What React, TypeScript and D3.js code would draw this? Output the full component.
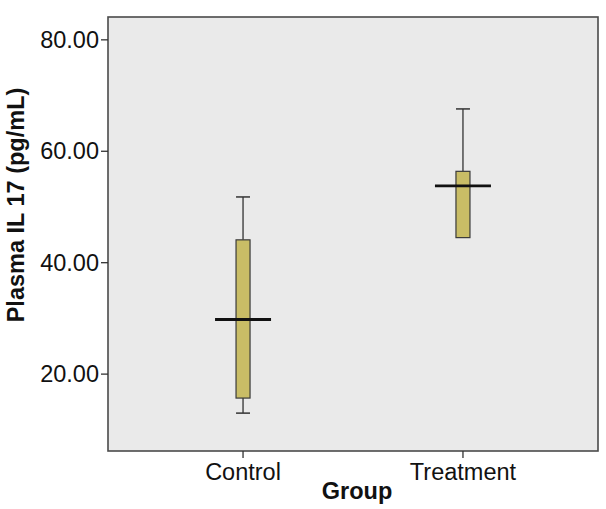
import React from "react";
import * as d3 from "d3";

const groups = ["Control", "Treatment"];
const whiskerLow = [13.0, 44.5];
const q1 = [15.7, 44.5];
const median = [29.8, 53.8];
const q3 = [44.1, 56.4];
const whiskerHigh = [51.8, 67.6];
const yTicks = [20, 40, 60, 80];

const W = 606;
const H = 509;
const left = 108;
const right = 598;
const top = 17;
const bottom = 451;

export default function App() {
  const x = d3.scalePoint<string>().domain(groups).range([left, right]).padding(0.614);
  const y = d3.scaleLinear().domain([6.2, 84.1]).range([bottom, top]);
  const boxW = 14;
  const capW = 14;
  const medW = 56;
  const font = "'Liberation Sans', Arial, sans-serif";
  return (
    <svg width={W} height={H} style={{ position: "absolute", left: 0, top: 0 }}>
      <rect x={0} y={0} width={W} height={H} fill="#ffffff" />
      <rect x={left} y={top} width={right - left} height={bottom - top} fill="#eaeaea" stroke="#4a4a4a" strokeWidth={1.6} />
      {yTicks.map((t) => (
        <g key={t}>
          <line x1={left - 7} x2={left} y1={y(t)} y2={y(t)} stroke="#333" strokeWidth={1.3} />
          <text x={left - 9} y={y(t)} dy="0.35em" textAnchor="end" fontFamily={font} fontSize={23.5} fill="#111">
            {t.toFixed(2)}
          </text>
        </g>
      ))}
      {groups.map((g) => (
        <g key={g}>
          <line x1={x(g)} x2={x(g)} y1={bottom} y2={bottom + 7} stroke="#333" strokeWidth={1.3} />
          <text x={x(g)} y={480} textAnchor="middle" fontFamily={font} fontSize={23.5} fill="#111">
            {g}
          </text>
        </g>
      ))}
      {groups.map((g, i) => {
        const cx = x(g) as number;
        return (
          <g key={"b" + g}>
            <line x1={cx} x2={cx} y1={y(whiskerHigh[i])} y2={y(q3[i])} stroke="#333" strokeWidth={1.3} />
            <line x1={cx} x2={cx} y1={y(q1[i])} y2={y(whiskerLow[i])} stroke="#333" strokeWidth={1.3} />
            {whiskerHigh[i] > q3[i] && (
              <line x1={cx - capW / 2} x2={cx + capW / 2} y1={y(whiskerHigh[i])} y2={y(whiskerHigh[i])} stroke="#333" strokeWidth={1.5} />
            )}
            {whiskerLow[i] < q1[i] && (
              <line x1={cx - capW / 2} x2={cx + capW / 2} y1={y(whiskerLow[i])} y2={y(whiskerLow[i])} stroke="#333" strokeWidth={1.5} />
            )}
            <rect x={cx - boxW / 2} y={y(q3[i])} width={boxW} height={y(q1[i]) - y(q3[i])} fill="#c9bd66" stroke="#3a3a3a" strokeWidth={1.2} />
            <line x1={cx - medW / 2} x2={cx + medW / 2} y1={y(median[i])} y2={y(median[i])} stroke="#111" strokeWidth={2.8} />
          </g>
        );
      })}
      <text x={(left + right) / 2 + 4} y={499} textAnchor="middle" fontFamily={font} fontSize={23.5} fontWeight="bold" fill="#111">
        Group
      </text>
      <text transform={`translate(24, ${(top + bottom) / 2 - 29}) rotate(-90)`} textAnchor="middle" fontFamily={font} fontSize={23.5} fontWeight="bold" fill="#111">
        Plasma IL 17 (pg/mL)
      </text>
    </svg>
  );
}
